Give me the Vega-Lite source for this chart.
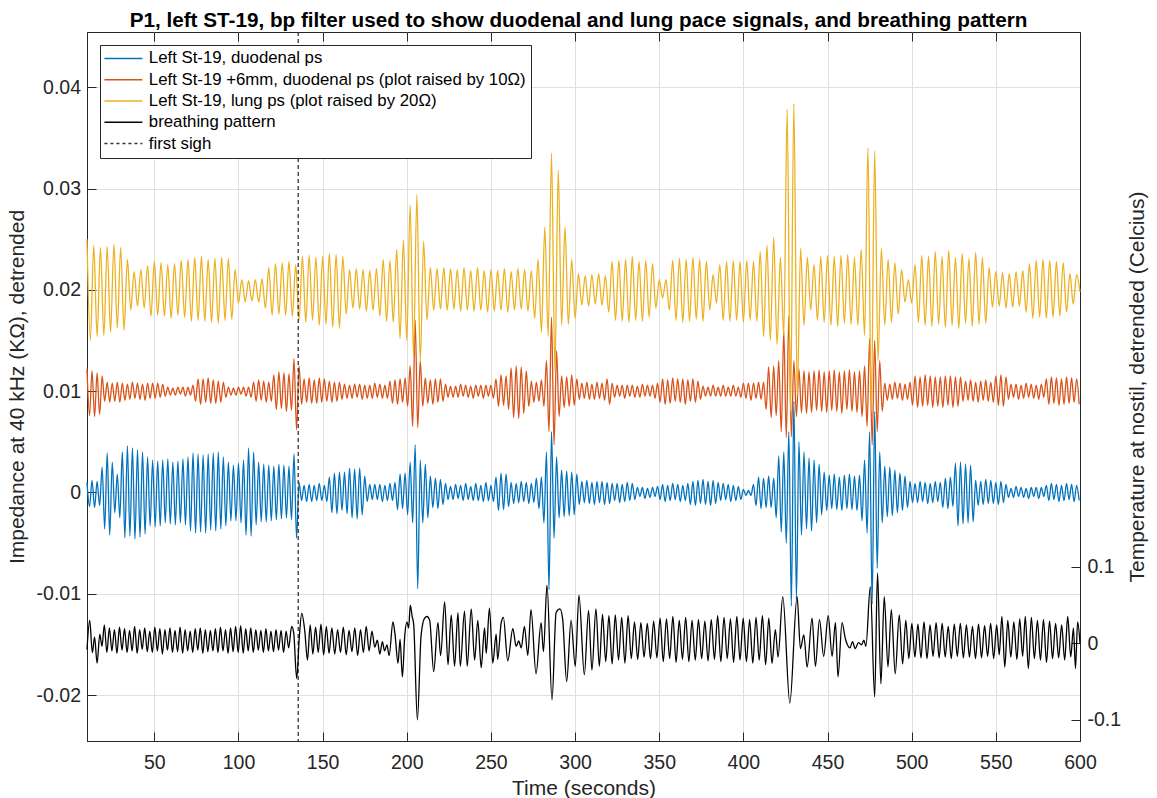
{
"$schema":"https://vega.github.io/schema/vega-lite/v6.json",
"width":993,"height":709,
"autosize":{"type":"none"},
"padding":{"left":87,"top":32,"right":78,"bottom":57},
"background":"white",
"config":{"font":"Liberation Sans","view":{"stroke":"#262626","strokeWidth":1},
"axis":{"domainColor":"#262626","tickColor":"#262626","labelColor":"#262626","titleColor":"#262626","labelFont":"Liberation Sans","titleFont":"Liberation Sans","labelFontSize":19.5,"titleFontSize":21,"titleFontWeight":"normal","gridColor":"#dfdfdf","gridWidth":1,"tickSize":-9,"tickWidth":1,"domainWidth":1}},
"title":{"text":"P1, left ST-19, bp filter used to show duodenal and lung pace signals, and breathing pattern","font":"Liberation Sans","fontSize":20.7,"fontWeight":"bold","color":"#000000","anchor":"middle","frame":"group","offset":0,"dx":-5},
"datasets":{
"bo":[{"t":10,"b":0.001,"o":0.0122},{"t":11.5,"b":-0.0014,"o":0.0076},{"t":13,"b":0.0012,"o":0.012},{"t":14.5,"b":-0.0015,"o":0.0075},{"t":16,"b":0.0011,"o":0.0118},{"t":17.5,"b":-0.0013,"o":0.0077},{"t":19,"b":0.0025,"o":0.0115},{"t":20.5,"b":-0.0036,"o":0.009},{"t":22,"b":0.0039,"o":0.0109},{"t":23.5,"b":-0.0042,"o":0.0089},{"t":25,"b":0.003,"o":0.0108},{"t":26.5,"b":-0.002,"o":0.009},{"t":28,"b":0.0018,"o":0.0109},{"t":29.5,"b":-0.0025,"o":0.0089},{"t":31,"b":0.004,"o":0.0108},{"t":32.5,"b":-0.0045,"o":0.0091},{"t":34,"b":0.0046,"o":0.0107},{"t":35.5,"b":-0.0043,"o":0.0092},{"t":37,"b":0.0044,"o":0.0109},{"t":38.5,"b":-0.0046,"o":0.0093},{"t":40,"b":0.0042,"o":0.0108},{"t":41.5,"b":-0.0044,"o":0.0092},{"t":43,"b":0.004,"o":0.0107},{"t":44.5,"b":-0.0041,"o":0.0091},{"t":46,"b":0.0035,"o":0.0108},{"t":47.5,"b":-0.0033,"o":0.0093},{"t":49,"b":0.0032,"o":0.0108},{"t":50.5,"b":-0.0034,"o":0.0093},{"t":52,"b":0.0031,"o":0.0108},{"t":53.5,"b":-0.0033,"o":0.0094},{"t":55,"b":0.0032,"o":0.0107},{"t":56.5,"b":-0.003,"o":0.0095},{"t":58,"b":0.0033,"o":0.0104},{"t":59.5,"b":-0.0031,"o":0.0096},{"t":61,"b":0.003,"o":0.0103},{"t":62.5,"b":-0.0032,"o":0.0096},{"t":64,"b":0.0031,"o":0.0104},{"t":65.5,"b":-0.003,"o":0.0097},{"t":67,"b":0.0033,"o":0.0104},{"t":68.5,"b":-0.0032,"o":0.0095},{"t":70,"b":0.0035,"o":0.0104},{"t":71.5,"b":-0.0038,"o":0.0096},{"t":73,"b":0.0039,"o":0.0106},{"t":74.5,"b":-0.004,"o":0.009},{"t":76,"b":0.0038,"o":0.0112},{"t":77.5,"b":-0.0039,"o":0.0087},{"t":79,"b":0.0037,"o":0.0112},{"t":80.5,"b":-0.004,"o":0.0089},{"t":82,"b":0.0038,"o":0.0113},{"t":83.5,"b":-0.0037,"o":0.0088},{"t":85,"b":0.0039,"o":0.0111},{"t":86.5,"b":-0.0038,"o":0.0088},{"t":88,"b":0.004,"o":0.011},{"t":89.5,"b":-0.0036,"o":0.0089},{"t":91,"b":0.0035,"o":0.0109},{"t":92.5,"b":-0.0033,"o":0.0094},{"t":94,"b":0.003,"o":0.0104},{"t":95.5,"b":-0.0028,"o":0.0096},{"t":97,"b":0.0027,"o":0.0103},{"t":98.5,"b":-0.0028,"o":0.0096},{"t":100,"b":0.0029,"o":0.0104},{"t":101.5,"b":-0.003,"o":0.0097},{"t":103,"b":0.0032,"o":0.0104},{"t":104.5,"b":-0.0042,"o":0.0095},{"t":106,"b":0.0044,"o":0.0104},{"t":107.5,"b":-0.0043,"o":0.0094},{"t":109,"b":0.004,"o":0.0109},{"t":110.5,"b":-0.0032,"o":0.009},{"t":112,"b":0.003,"o":0.0111},{"t":113.5,"b":-0.0029,"o":0.0091},{"t":115,"b":0.0028,"o":0.011},{"t":116.5,"b":-0.0029,"o":0.0089},{"t":118,"b":0.0027,"o":0.0109},{"t":119.5,"b":-0.0028,"o":0.009},{"t":121,"b":0.0026,"o":0.0116},{"t":122.5,"b":-0.0027,"o":0.0082},{"t":124,"b":0.0028,"o":0.0119},{"t":125.5,"b":-0.0026,"o":0.0083},{"t":127,"b":0.0027,"o":0.0118},{"t":128.5,"b":-0.0025,"o":0.008},{"t":130,"b":0.0026,"o":0.0117},{"t":131.5,"b":-0.0027,"o":0.0081},{"t":133,"b":0.0038,"o":0.0132},{"t":134.5,"b":-0.0045,"o":0.0062},{"t":136,"b":0.001,"o":0.0125},{"t":137.5,"b":-0.0008,"o":0.0087},{"t":139,"b":0.0007,"o":0.0112},{"t":140.5,"b":-0.0009,"o":0.0089},{"t":142,"b":0.0008,"o":0.0113},{"t":143.5,"b":-0.0009,"o":0.0088},{"t":145,"b":0.0007,"o":0.0111},{"t":146.5,"b":-0.0008,"o":0.0088},{"t":148,"b":0.0009,"o":0.0113},{"t":149.5,"b":-0.0008,"o":0.0089},{"t":151,"b":0.0007,"o":0.0112},{"t":152.5,"b":-0.0009,"o":0.009},{"t":154,"b":0.0015,"o":0.011},{"t":155.5,"b":-0.002,"o":0.0089},{"t":157,"b":0.0019,"o":0.0109},{"t":158.5,"b":-0.0021,"o":0.009},{"t":160,"b":0.002,"o":0.0109},{"t":161.5,"b":-0.0018,"o":0.0092},{"t":163,"b":0.002,"o":0.0107},{"t":164.5,"b":-0.0021,"o":0.0093},{"t":166,"b":0.0024,"o":0.0106},{"t":167.5,"b":-0.0025,"o":0.0093},{"t":169,"b":0.0023,"o":0.0107},{"t":170.5,"b":-0.0026,"o":0.0094},{"t":172,"b":0.0024,"o":0.0107},{"t":173.5,"b":-0.0022,"o":0.0092},{"t":175,"b":0.0016,"o":0.0106},{"t":176.5,"b":-0.0009,"o":0.0093},{"t":178,"b":0.0008,"o":0.0106},{"t":179.5,"b":-0.0007,"o":0.0093},{"t":181,"b":0.0008,"o":0.0108},{"t":182.5,"b":-0.0007,"o":0.0094},{"t":184,"b":0.0008,"o":0.0107},{"t":185.5,"b":-0.0009,"o":0.0093},{"t":187,"b":0.0007,"o":0.0106},{"t":188.5,"b":-0.0008,"o":0.0093},{"t":190,"b":0.0009,"o":0.011},{"t":191.5,"b":-0.0008,"o":0.0088},{"t":193,"b":0.001,"o":0.0111},{"t":194.5,"b":-0.0017,"o":0.0087},{"t":196,"b":0.0018,"o":0.0112},{"t":197.5,"b":-0.0016,"o":0.0089},{"t":199,"b":0.0019,"o":0.0113},{"t":200.5,"b":-0.0022,"o":0.0085},{"t":202,"b":0.003,"o":0.0125},{"t":203.5,"b":-0.003,"o":0.0065},{"t":205,"b":0.0047,"o":0.017},{"t":206.5,"b":-0.0095,"o":0.0064},{"t":208,"b":0.0032,"o":0.013},{"t":209.5,"b":-0.003,"o":0.0085},{"t":211,"b":0.0028,"o":0.0113},{"t":212.5,"b":-0.0025,"o":0.0088},{"t":214,"b":0.0016,"o":0.0111},{"t":215.5,"b":-0.0015,"o":0.0087},{"t":217,"b":0.0014,"o":0.0112},{"t":218.5,"b":-0.0016,"o":0.0089},{"t":220,"b":0.0013,"o":0.0112},{"t":221.5,"b":-0.0012,"o":0.009},{"t":223,"b":0.0009,"o":0.0107},{"t":224.5,"b":-0.0007,"o":0.0094},{"t":226,"b":0.0006,"o":0.0105},{"t":227.5,"b":-0.0007,"o":0.0094},{"t":229,"b":0.0008,"o":0.0105},{"t":230.5,"b":-0.0006,"o":0.0094},{"t":232,"b":0.0007,"o":0.0107},{"t":233.5,"b":-0.0008,"o":0.0095},{"t":235,"b":0.0009,"o":0.0106},{"t":236.5,"b":-0.0007,"o":0.0094},{"t":238,"b":0.0006,"o":0.0105},{"t":239.5,"b":-0.0008,"o":0.0093},{"t":241,"b":0.0009,"o":0.0106},{"t":242.5,"b":-0.0008,"o":0.0095},{"t":244,"b":0.0007,"o":0.0106},{"t":245.5,"b":-0.0009,"o":0.0093},{"t":247,"b":0.001,"o":0.0106},{"t":248.5,"b":-0.0008,"o":0.0095},{"t":250,"b":0.0007,"o":0.0106},{"t":251.5,"b":-0.0009,"o":0.0093},{"t":253,"b":0.0015,"o":0.0112},{"t":254.5,"b":-0.0018,"o":0.0085},{"t":256,"b":0.0019,"o":0.0116},{"t":257.5,"b":-0.0017,"o":0.0086},{"t":259,"b":0.0018,"o":0.0115},{"t":260.5,"b":-0.0014,"o":0.0082},{"t":262,"b":0.001,"o":0.0123},{"t":263.5,"b":-0.0011,"o":0.0074},{"t":265,"b":0.0009,"o":0.0125},{"t":266.5,"b":-0.001,"o":0.0073},{"t":268,"b":0.0011,"o":0.0124},{"t":269.5,"b":-0.0009,"o":0.0078},{"t":271,"b":0.001,"o":0.012},{"t":272.5,"b":-0.0011,"o":0.0085},{"t":274,"b":0.0009,"o":0.011},{"t":275.5,"b":-0.001,"o":0.0089},{"t":277,"b":0.0014,"o":0.0109},{"t":278.5,"b":-0.0016,"o":0.009},{"t":280,"b":0.0015,"o":0.0111},{"t":281.5,"b":-0.003,"o":0.0085},{"t":283,"b":0.004,"o":0.013},{"t":284.5,"b":-0.0096,"o":0.006},{"t":286,"b":0.006,"o":0.0173},{"t":287.5,"b":-0.0045,"o":0.0047},{"t":289,"b":0.0035,"o":0.014},{"t":290.5,"b":-0.0025,"o":0.0075},{"t":292,"b":0.0022,"o":0.0115},{"t":293.5,"b":-0.0024,"o":0.0084},{"t":295,"b":0.0021,"o":0.0114},{"t":296.5,"b":-0.0023,"o":0.0085},{"t":298,"b":0.002,"o":0.0116},{"t":299.5,"b":-0.0022,"o":0.0086},{"t":301,"b":0.0018,"o":0.0112},{"t":302.5,"b":-0.0012,"o":0.0092},{"t":304,"b":0.0011,"o":0.0108},{"t":305.5,"b":-0.001,"o":0.0093},{"t":307,"b":0.0012,"o":0.0109},{"t":308.5,"b":-0.0011,"o":0.0092},{"t":310,"b":0.001,"o":0.0107},{"t":311.5,"b":-0.0012,"o":0.0092},{"t":313,"b":0.0011,"o":0.0109},{"t":314.5,"b":-0.001,"o":0.0093},{"t":316,"b":0.0011,"o":0.0108},{"t":317.5,"b":-0.0012,"o":0.0091},{"t":319,"b":0.001,"o":0.0112},{"t":320.5,"b":-0.0011,"o":0.0087},{"t":322,"b":0.0009,"o":0.0108},{"t":323.5,"b":-0.0008,"o":0.0094},{"t":325,"b":0.0009,"o":0.0106},{"t":326.5,"b":-0.001,"o":0.0095},{"t":328,"b":0.0008,"o":0.0106},{"t":329.5,"b":-0.0009,"o":0.0093},{"t":331,"b":0.001,"o":0.0106},{"t":332.5,"b":-0.0008,"o":0.0095},{"t":334,"b":0.0009,"o":0.0106},{"t":335.5,"b":-0.0007,"o":0.0094},{"t":337,"b":0.0005,"o":0.0105},{"t":338.5,"b":-0.0004,"o":0.0094},{"t":340,"b":0.0005,"o":0.0107},{"t":341.5,"b":-0.0006,"o":0.0095},{"t":343,"b":0.0004,"o":0.0106},{"t":344.5,"b":-0.0005,"o":0.0095},{"t":346,"b":0.0005,"o":0.0106},{"t":347.5,"b":-0.0004,"o":0.0093},{"t":349,"b":0.0006,"o":0.0108},{"t":350.5,"b":-0.0007,"o":0.0089},{"t":352,"b":0.0008,"o":0.0112},{"t":353.5,"b":-0.0009,"o":0.0087},{"t":355,"b":0.0007,"o":0.0111},{"t":356.5,"b":-0.0008,"o":0.0088},{"t":358,"b":0.0009,"o":0.0113},{"t":359.5,"b":-0.0007,"o":0.009},{"t":361,"b":0.0008,"o":0.0112},{"t":362.5,"b":-0.0009,"o":0.0089},{"t":364,"b":0.0007,"o":0.0112},{"t":365.5,"b":-0.0008,"o":0.0087},{"t":367,"b":0.0009,"o":0.0111},{"t":368.5,"b":-0.0012,"o":0.009},{"t":370,"b":0.0011,"o":0.0112},{"t":371.5,"b":-0.0013,"o":0.0089},{"t":373,"b":0.0012,"o":0.011},{"t":374.5,"b":-0.0011,"o":0.0092},{"t":376,"b":0.0013,"o":0.0105},{"t":377.5,"b":-0.0012,"o":0.0095},{"t":379,"b":0.0011,"o":0.0104},{"t":380.5,"b":-0.0013,"o":0.0095},{"t":382,"b":0.0012,"o":0.0106},{"t":383.5,"b":-0.0011,"o":0.0095},{"t":385,"b":0.001,"o":0.0104},{"t":386.5,"b":-0.0008,"o":0.0095},{"t":388,"b":0.0009,"o":0.0106},{"t":389.5,"b":-0.0007,"o":0.0095},{"t":391,"b":0.0008,"o":0.0104},{"t":392.5,"b":-0.0009,"o":0.0095},{"t":394,"b":0.0007,"o":0.0106},{"t":395.5,"b":-0.0008,"o":0.0095},{"t":397,"b":0.0006,"o":0.0104},{"t":398.5,"b":-0.0007,"o":0.0094},{"t":400,"b":0.0003,"o":0.0108},{"t":401.5,"b":-0.0003,"o":0.0093},{"t":403,"b":0.0002,"o":0.0108},{"t":404.5,"b":-0.0003,"o":0.0091},{"t":406,"b":0.0008,"o":0.0108},{"t":407.5,"b":-0.0013,"o":0.0093},{"t":409,"b":0.0015,"o":0.0109},{"t":410.5,"b":-0.0016,"o":0.0092},{"t":412,"b":0.0014,"o":0.0109},{"t":413.5,"b":-0.0015,"o":0.0082},{"t":415,"b":0.0016,"o":0.0124},{"t":416.5,"b":-0.0015,"o":0.0074},{"t":418,"b":0.0014,"o":0.0125},{"t":419.5,"b":-0.0025,"o":0.0076},{"t":421,"b":0.0036,"o":0.013},{"t":422.5,"b":-0.0039,"o":0.006},{"t":424,"b":0.004,"o":0.016},{"t":425.5,"b":-0.005,"o":0.0054},{"t":427,"b":0.006,"o":0.0174},{"t":428.5,"b":-0.0112,"o":0.0055},{"t":430,"b":0.009,"o":0.013},{"t":431.5,"b":-0.0105,"o":0.0075},{"t":433,"b":0.005,"o":0.0122},{"t":434.5,"b":-0.0042,"o":0.0079},{"t":436,"b":0.004,"o":0.012},{"t":437.5,"b":-0.0036,"o":0.0078},{"t":439,"b":0.0034,"o":0.0119},{"t":440.5,"b":-0.0038,"o":0.0079},{"t":442,"b":0.0032,"o":0.012},{"t":443.5,"b":-0.003,"o":0.0081},{"t":445,"b":0.0028,"o":0.0121},{"t":446.5,"b":-0.0022,"o":0.008},{"t":448,"b":0.002,"o":0.0119},{"t":449.5,"b":-0.0018,"o":0.0079},{"t":451,"b":0.0017,"o":0.012},{"t":452.5,"b":-0.0016,"o":0.0081},{"t":454,"b":0.0018,"o":0.0121},{"t":455.5,"b":-0.0017,"o":0.008},{"t":457,"b":0.0015,"o":0.0119},{"t":458.5,"b":-0.0018,"o":0.0078},{"t":460,"b":0.0017,"o":0.012},{"t":461.5,"b":-0.0016,"o":0.0082},{"t":463,"b":0.0018,"o":0.0121},{"t":464.5,"b":-0.0017,"o":0.008},{"t":466,"b":0.0016,"o":0.0119},{"t":467.5,"b":-0.0018,"o":0.0079},{"t":469,"b":0.0017,"o":0.012},{"t":470.5,"b":-0.0028,"o":0.0075},{"t":472,"b":0.0032,"o":0.0125},{"t":473.5,"b":-0.004,"o":0.0065},{"t":475,"b":0.006,"o":0.0152},{"t":476.5,"b":-0.011,"o":0.0047},{"t":478,"b":0.008,"o":0.015},{"t":479.5,"b":-0.0075,"o":0.006},{"t":481,"b":0.004,"o":0.013},{"t":482.5,"b":-0.003,"o":0.008},{"t":484,"b":0.0026,"o":0.0108},{"t":485.5,"b":-0.0024,"o":0.0091},{"t":487,"b":0.0025,"o":0.0107},{"t":488.5,"b":-0.0023,"o":0.0092},{"t":490,"b":0.0022,"o":0.0109},{"t":491.5,"b":-0.002,"o":0.0093},{"t":493,"b":0.0019,"o":0.0108},{"t":494.5,"b":-0.0018,"o":0.0091},{"t":496,"b":0.0016,"o":0.0107},{"t":497.5,"b":-0.0015,"o":0.0092},{"t":499,"b":0.0011,"o":0.0109},{"t":500.5,"b":-0.001,"o":0.0086},{"t":502,"b":0.0009,"o":0.0115},{"t":503.5,"b":-0.001,"o":0.0084},{"t":505,"b":0.0011,"o":0.0114},{"t":506.5,"b":-0.0009,"o":0.0085},{"t":508,"b":0.001,"o":0.0116},{"t":509.5,"b":-0.0011,"o":0.0086},{"t":511,"b":0.0009,"o":0.0115},{"t":512.5,"b":-0.001,"o":0.0084},{"t":514,"b":0.0011,"o":0.0114},{"t":515.5,"b":-0.0009,"o":0.0085},{"t":517,"b":0.001,"o":0.0114},{"t":518.5,"b":-0.0015,"o":0.0084},{"t":520,"b":0.0014,"o":0.0115},{"t":521.5,"b":-0.0016,"o":0.0086},{"t":523,"b":0.0015,"o":0.0115},{"t":524.5,"b":-0.0014,"o":0.0084},{"t":526,"b":0.0029,"o":0.0114},{"t":527.5,"b":-0.0033,"o":0.0085},{"t":529,"b":0.003,"o":0.0114},{"t":530.5,"b":-0.0031,"o":0.009},{"t":532,"b":0.0028,"o":0.011},{"t":533.5,"b":-0.003,"o":0.0091},{"t":535,"b":0.0027,"o":0.0111},{"t":536.5,"b":-0.0029,"o":0.009},{"t":538,"b":0.0012,"o":0.0109},{"t":539.5,"b":-0.0013,"o":0.0089},{"t":541,"b":0.0011,"o":0.011},{"t":542.5,"b":-0.0012,"o":0.0091},{"t":544,"b":0.0013,"o":0.0111},{"t":545.5,"b":-0.0011,"o":0.009},{"t":547,"b":0.0012,"o":0.0109},{"t":548.5,"b":-0.0011,"o":0.0089},{"t":550,"b":0.001,"o":0.0115},{"t":551.5,"b":-0.0012,"o":0.0086},{"t":553,"b":0.0011,"o":0.0116},{"t":554.5,"b":-0.001,"o":0.0085},{"t":556,"b":0.0008,"o":0.0114},{"t":557.5,"b":-0.0005,"o":0.0092},{"t":559,"b":0.0004,"o":0.0107},{"t":560.5,"b":-0.0005,"o":0.0094},{"t":562,"b":0.0006,"o":0.0107},{"t":563.5,"b":-0.0004,"o":0.0092},{"t":565,"b":0.0005,"o":0.0106},{"t":566.5,"b":-0.0005,"o":0.0093},{"t":568,"b":0.0004,"o":0.0108},{"t":569.5,"b":-0.0006,"o":0.0094},{"t":571,"b":0.0005,"o":0.0107},{"t":572.5,"b":-0.0004,"o":0.0093},{"t":574,"b":0.0005,"o":0.0106},{"t":575.5,"b":-0.0006,"o":0.0092},{"t":577,"b":0.0005,"o":0.0107},{"t":578.5,"b":-0.0004,"o":0.0094},{"t":580,"b":0.0007,"o":0.0112},{"t":581.5,"b":-0.0008,"o":0.0087},{"t":583,"b":0.0009,"o":0.0114},{"t":584.5,"b":-0.0007,"o":0.0088},{"t":586,"b":0.0008,"o":0.0113},{"t":587.5,"b":-0.0009,"o":0.0086},{"t":589,"b":0.0007,"o":0.0112},{"t":590.5,"b":-0.0008,"o":0.0087},{"t":592,"b":0.0009,"o":0.0114},{"t":593.5,"b":-0.0007,"o":0.0088},{"t":595,"b":0.0008,"o":0.0113},{"t":596.5,"b":-0.0009,"o":0.0089},{"t":598,"b":0.0007,"o":0.0112},{"t":599.5,"b":-0.0008,"o":0.0087}],
"yel":[{"t":10,"v":0.025},{"t":12,"v":0.015},{"t":14,"v":0.0244},{"t":16,"v":0.0154},{"t":18,"v":0.0242},{"t":20,"v":0.0155},{"t":22,"v":0.0243},{"t":24,"v":0.0158},{"t":26,"v":0.0245},{"t":28,"v":0.0162},{"t":30,"v":0.0242},{"t":32,"v":0.016},{"t":34,"v":0.023},{"t":36,"v":0.018},{"t":38,"v":0.0218},{"t":40,"v":0.0184},{"t":42,"v":0.022},{"t":44,"v":0.0182},{"t":46,"v":0.0224},{"t":48,"v":0.0174},{"t":50,"v":0.0228},{"t":52,"v":0.0175},{"t":54,"v":0.0227},{"t":56,"v":0.0174},{"t":58,"v":0.0225},{"t":60,"v":0.0172},{"t":62,"v":0.0226},{"t":64,"v":0.0175},{"t":66,"v":0.0229},{"t":68,"v":0.0173},{"t":70,"v":0.023},{"t":72,"v":0.0169},{"t":74,"v":0.0232},{"t":76,"v":0.017},{"t":78,"v":0.0233},{"t":80,"v":0.0169},{"t":82,"v":0.023},{"t":84,"v":0.0168},{"t":86,"v":0.0231},{"t":88,"v":0.0167},{"t":90,"v":0.0232},{"t":92,"v":0.017},{"t":94,"v":0.0231},{"t":96,"v":0.0171},{"t":98,"v":0.022},{"t":100,"v":0.0187},{"t":102,"v":0.021},{"t":104,"v":0.0188},{"t":106,"v":0.0209},{"t":108,"v":0.0189},{"t":110,"v":0.021},{"t":112,"v":0.0188},{"t":114,"v":0.0211},{"t":116,"v":0.0182},{"t":118,"v":0.0222},{"t":120,"v":0.0175},{"t":122,"v":0.0226},{"t":124,"v":0.0176},{"t":126,"v":0.0227},{"t":128,"v":0.0175},{"t":130,"v":0.0228},{"t":132,"v":0.0174},{"t":134,"v":0.0225},{"t":136,"v":0.017},{"t":138,"v":0.0233},{"t":140,"v":0.0168},{"t":142,"v":0.0234},{"t":144,"v":0.017},{"t":146,"v":0.0232},{"t":148,"v":0.0165},{"t":150,"v":0.0233},{"t":152,"v":0.0166},{"t":154,"v":0.0236},{"t":156,"v":0.0163},{"t":158,"v":0.0235},{"t":160,"v":0.0162},{"t":162,"v":0.0233},{"t":164,"v":0.0176},{"t":166,"v":0.022},{"t":168,"v":0.0182},{"t":170,"v":0.0221},{"t":172,"v":0.0181},{"t":174,"v":0.022},{"t":176,"v":0.0179},{"t":178,"v":0.0219},{"t":180,"v":0.018},{"t":182,"v":0.0221},{"t":184,"v":0.0174},{"t":186,"v":0.023},{"t":188,"v":0.0169},{"t":190,"v":0.0229},{"t":192,"v":0.0168},{"t":194,"v":0.024},{"t":196,"v":0.0152},{"t":198,"v":0.0249},{"t":200,"v":0.015},{"t":202,"v":0.0284},{"t":204,"v":0.0135},{"t":206,"v":0.0294},{"t":208,"v":0.0129},{"t":210,"v":0.0248},{"t":212,"v":0.017},{"t":214,"v":0.0222},{"t":216,"v":0.018},{"t":218,"v":0.0221},{"t":220,"v":0.0181},{"t":222,"v":0.0222},{"t":224,"v":0.018},{"t":226,"v":0.0221},{"t":228,"v":0.0181},{"t":230,"v":0.022},{"t":232,"v":0.0179},{"t":234,"v":0.0222},{"t":236,"v":0.018},{"t":238,"v":0.0219},{"t":240,"v":0.0179},{"t":242,"v":0.0222},{"t":244,"v":0.018},{"t":246,"v":0.0219},{"t":248,"v":0.0178},{"t":250,"v":0.022},{"t":252,"v":0.0179},{"t":254,"v":0.0219},{"t":256,"v":0.018},{"t":258,"v":0.0221},{"t":260,"v":0.0178},{"t":262,"v":0.0218},{"t":264,"v":0.018},{"t":266,"v":0.0221},{"t":268,"v":0.0181},{"t":270,"v":0.022},{"t":272,"v":0.0179},{"t":274,"v":0.0219},{"t":276,"v":0.0172},{"t":278,"v":0.023},{"t":280,"v":0.0158},{"t":282,"v":0.0262},{"t":284,"v":0.0154},{"t":286,"v":0.0335},{"t":288,"v":0.012},{"t":290,"v":0.0318},{"t":292,"v":0.0165},{"t":294,"v":0.0262},{"t":296,"v":0.0166},{"t":298,"v":0.023},{"t":300,"v":0.0172},{"t":302,"v":0.0216},{"t":304,"v":0.0185},{"t":306,"v":0.0214},{"t":308,"v":0.0184},{"t":310,"v":0.0215},{"t":312,"v":0.0186},{"t":314,"v":0.0216},{"t":316,"v":0.0185},{"t":318,"v":0.0214},{"t":320,"v":0.0178},{"t":322,"v":0.0228},{"t":324,"v":0.017},{"t":326,"v":0.0229},{"t":328,"v":0.0169},{"t":330,"v":0.023},{"t":332,"v":0.0168},{"t":334,"v":0.0233},{"t":336,"v":0.017},{"t":338,"v":0.0228},{"t":340,"v":0.0169},{"t":342,"v":0.0229},{"t":344,"v":0.0173},{"t":346,"v":0.0226},{"t":348,"v":0.0182},{"t":350,"v":0.021},{"t":352,"v":0.0192},{"t":354,"v":0.021},{"t":356,"v":0.018},{"t":358,"v":0.0229},{"t":360,"v":0.017},{"t":362,"v":0.0231},{"t":364,"v":0.0168},{"t":366,"v":0.023},{"t":368,"v":0.0169},{"t":370,"v":0.0232},{"t":372,"v":0.0171},{"t":374,"v":0.023},{"t":376,"v":0.0169},{"t":378,"v":0.0228},{"t":380,"v":0.018},{"t":382,"v":0.0215},{"t":384,"v":0.0187},{"t":386,"v":0.0225},{"t":388,"v":0.017},{"t":390,"v":0.0228},{"t":392,"v":0.0169},{"t":394,"v":0.0229},{"t":396,"v":0.017},{"t":398,"v":0.0228},{"t":400,"v":0.0168},{"t":402,"v":0.0229},{"t":404,"v":0.017},{"t":406,"v":0.0228},{"t":408,"v":0.0169},{"t":410,"v":0.0238},{"t":412,"v":0.0154},{"t":414,"v":0.0244},{"t":416,"v":0.015},{"t":418,"v":0.0252},{"t":420,"v":0.0146},{"t":422,"v":0.0232},{"t":424,"v":0.0155},{"t":426,"v":0.0378},{"t":428,"v":0.008},{"t":430,"v":0.0384},{"t":432,"v":0.0095},{"t":434,"v":0.0241},{"t":436,"v":0.0165},{"t":438,"v":0.0232},{"t":440,"v":0.018},{"t":442,"v":0.0225},{"t":444,"v":0.017},{"t":446,"v":0.0233},{"t":448,"v":0.0168},{"t":450,"v":0.0234},{"t":452,"v":0.0165},{"t":454,"v":0.0233},{"t":456,"v":0.0164},{"t":458,"v":0.0234},{"t":460,"v":0.0167},{"t":462,"v":0.0235},{"t":464,"v":0.0166},{"t":466,"v":0.0232},{"t":468,"v":0.0165},{"t":470,"v":0.024},{"t":472,"v":0.0155},{"t":474,"v":0.034},{"t":476,"v":0.008},{"t":478,"v":0.0337},{"t":480,"v":0.013},{"t":482,"v":0.0241},{"t":484,"v":0.0165},{"t":486,"v":0.023},{"t":488,"v":0.0168},{"t":490,"v":0.0227},{"t":492,"v":0.0176},{"t":494,"v":0.022},{"t":496,"v":0.0188},{"t":498,"v":0.021},{"t":500,"v":0.0187},{"t":502,"v":0.0225},{"t":504,"v":0.0168},{"t":506,"v":0.0234},{"t":508,"v":0.0165},{"t":510,"v":0.0233},{"t":512,"v":0.0164},{"t":514,"v":0.0238},{"t":516,"v":0.0166},{"t":518,"v":0.0233},{"t":520,"v":0.0163},{"t":522,"v":0.0239},{"t":524,"v":0.0165},{"t":526,"v":0.0232},{"t":528,"v":0.0162},{"t":530,"v":0.0236},{"t":532,"v":0.0167},{"t":534,"v":0.0231},{"t":536,"v":0.0164},{"t":538,"v":0.0237},{"t":540,"v":0.0166},{"t":542,"v":0.0232},{"t":544,"v":0.0167},{"t":546,"v":0.0222},{"t":548,"v":0.0183},{"t":550,"v":0.0218},{"t":552,"v":0.0184},{"t":554,"v":0.0217},{"t":556,"v":0.0182},{"t":558,"v":0.0216},{"t":560,"v":0.0183},{"t":562,"v":0.0218},{"t":564,"v":0.0184},{"t":566,"v":0.0219},{"t":568,"v":0.0178},{"t":570,"v":0.0226},{"t":572,"v":0.0172},{"t":574,"v":0.0229},{"t":576,"v":0.0173},{"t":578,"v":0.023},{"t":580,"v":0.0172},{"t":582,"v":0.0229},{"t":584,"v":0.0173},{"t":586,"v":0.0228},{"t":588,"v":0.0174},{"t":590,"v":0.0227},{"t":592,"v":0.0178},{"t":594,"v":0.0216},{"t":596,"v":0.0186},{"t":598,"v":0.0215},{"t":600,"v":0.0198}],
"blk":[{"t":10,"v":-0.008},{"t":11.6,"v":0.03},{"t":13.2,"v":-0.012},{"t":14.5,"v":0.008},{"t":16,"v":-0.026},{"t":17.6,"v":0.012},{"t":18.9,"v":-0.004},{"t":20.3,"v":0.024},{"t":21.8,"v":-0.012},{"t":23.3,"v":0.02},{"t":24.8,"v":-0.01},{"t":26.3,"v":0.018},{"t":27.8,"v":-0.013},{"t":29.3,"v":0.021},{"t":30.8,"v":-0.009},{"t":32.3,"v":0.019},{"t":33.8,"v":-0.012},{"t":35.3,"v":0.017},{"t":36.8,"v":-0.01},{"t":38.3,"v":0.022},{"t":39.8,"v":-0.013},{"t":41.3,"v":0.018},{"t":42.8,"v":-0.008},{"t":44.3,"v":0.02},{"t":45.8,"v":-0.011},{"t":47.3,"v":0.016},{"t":48.8,"v":-0.012},{"t":50.3,"v":0.021},{"t":51.8,"v":-0.01},{"t":53.3,"v":0.019},{"t":54.8,"v":-0.014},{"t":56.3,"v":0.018},{"t":57.8,"v":-0.009},{"t":59.3,"v":0.02},{"t":60.8,"v":-0.012},{"t":62.3,"v":0.017},{"t":63.8,"v":-0.011},{"t":65.3,"v":0.021},{"t":66.8,"v":-0.013},{"t":68.3,"v":0.018},{"t":69.8,"v":-0.01},{"t":71.3,"v":0.016},{"t":72.8,"v":-0.012},{"t":74.3,"v":0.019},{"t":75.8,"v":-0.009},{"t":77.3,"v":0.02},{"t":78.8,"v":-0.013},{"t":80.3,"v":0.018},{"t":81.8,"v":-0.011},{"t":83.3,"v":0.017},{"t":84.8,"v":-0.01},{"t":86.3,"v":0.019},{"t":87.8,"v":-0.012},{"t":89.3,"v":0.021},{"t":90.8,"v":-0.01},{"t":92.3,"v":0.018},{"t":93.8,"v":-0.013},{"t":95.3,"v":0.02},{"t":96.8,"v":-0.011},{"t":98.3,"v":0.022},{"t":99.8,"v":-0.012},{"t":101.3,"v":0.023},{"t":102.8,"v":-0.013},{"t":104.3,"v":0.019},{"t":105.8,"v":-0.01},{"t":107.3,"v":0.02},{"t":108.8,"v":-0.012},{"t":110.3,"v":0.018},{"t":111.8,"v":-0.009},{"t":113.3,"v":0.017},{"t":114.8,"v":-0.012},{"t":116.3,"v":0.019},{"t":117.8,"v":-0.01},{"t":119.3,"v":0.016},{"t":120.8,"v":-0.011},{"t":122.3,"v":0.018},{"t":123.8,"v":-0.009},{"t":125.3,"v":0.017},{"t":126.8,"v":-0.012},{"t":128.3,"v":0.016},{"t":129.8,"v":-0.006},{"t":131.6,"v":0.022},{"t":132.8,"v":0.014},{"t":134.6,"v":-0.046},{"t":136.2,"v":0.01},{"t":137.6,"v":0.039},{"t":139.4,"v":0.016},{"t":141,"v":-0.022},{"t":142.6,"v":0.024},{"t":144.2,"v":-0.014},{"t":145.8,"v":0.021},{"t":147.4,"v":-0.012},{"t":149,"v":0.025},{"t":150.6,"v":-0.015},{"t":152.2,"v":0.022},{"t":153.8,"v":-0.013},{"t":155.5,"v":0.02},{"t":157.2,"v":-0.014},{"t":158.9,"v":0.018},{"t":160.6,"v":-0.012},{"t":162.3,"v":0.021},{"t":164,"v":-0.015},{"t":165.7,"v":0.017},{"t":167.4,"v":-0.011},{"t":169.1,"v":0.02},{"t":170.8,"v":-0.016},{"t":172.5,"v":0.018},{"t":174.2,"v":-0.012},{"t":175.9,"v":0.022},{"t":177.6,"v":-0.01},{"t":179.3,"v":0.016},{"t":181,"v":-0.005},{"t":182.5,"v":0.004},{"t":184,"v":-0.014},{"t":185.5,"v":0.002},{"t":186.8,"v":-0.01},{"t":188.2,"v":-0.002},{"t":189.5,"v":-0.016},{"t":191.8,"v":0.028},{"t":193,"v":0.012},{"t":194.8,"v":-0.026},{"t":196,"v":0.005},{"t":197.4,"v":-0.044},{"t":198.8,"v":0.01},{"t":200.1,"v":0.028},{"t":201.1,"v":0.02},{"t":202.1,"v":0.05},{"t":203.2,"v":0.035},{"t":204.1,"v":0.025},{"t":206.3,"v":-0.1},{"t":208.5,"v":0.01},{"t":210.6,"v":0.033},{"t":212,"v":0.035},{"t":213.6,"v":0.03},{"t":216,"v":-0.037},{"t":218.5,"v":0.027},{"t":220.1,"v":-0.016},{"t":222.5,"v":0.054},{"t":224.5,"v":-0.028},{"t":226.4,"v":0.037},{"t":228.4,"v":-0.03},{"t":230.4,"v":0.04},{"t":231.8,"v":-0.03},{"t":234.3,"v":0.042},{"t":235.9,"v":-0.03},{"t":238.3,"v":0.045},{"t":240.3,"v":-0.022},{"t":242.2,"v":0.03},{"t":244.2,"v":-0.032},{"t":246.2,"v":0.02},{"t":247.2,"v":-0.013},{"t":249.1,"v":0.046},{"t":251.1,"v":-0.026},{"t":253.1,"v":0.012},{"t":254,"v":-0.021},{"t":256.1,"v":0.027},{"t":257.4,"v":0.034},{"t":260,"v":-0.023},{"t":263,"v":0.019},{"t":265,"v":-0.004},{"t":266.5,"v":0.003},{"t":268,"v":-0.006},{"t":269.9,"v":0.022},{"t":271.9,"v":-0.016},{"t":273.8,"v":0.044},{"t":276.8,"v":-0.04},{"t":279.8,"v":0.027},{"t":281.2,"v":-0.011},{"t":283.3,"v":0.076},{"t":286.3,"v":-0.074},{"t":288.7,"v":0.04},{"t":291,"v":0.045},{"t":292.6,"v":0.032},{"t":295,"v":-0.05},{"t":297.6,"v":0.03},{"t":300.1,"v":-0.03},{"t":302.3,"v":0.063},{"t":305.5,"v":-0.041},{"t":308,"v":0.043},{"t":310,"v":-0.035},{"t":312.4,"v":0.045},{"t":314.4,"v":-0.03},{"t":316.3,"v":0.038},{"t":318.2,"v":-0.024},{"t":320.1,"v":0.036},{"t":322,"v":-0.027},{"t":323.9,"v":0.037},{"t":325.8,"v":-0.022},{"t":327.7,"v":0.034},{"t":329.6,"v":-0.026},{"t":331.5,"v":0.036},{"t":333.4,"v":-0.02},{"t":335.3,"v":0.028},{"t":337.2,"v":-0.021},{"t":339.1,"v":0.027},{"t":341,"v":-0.018},{"t":342.9,"v":0.026},{"t":344.8,"v":-0.02},{"t":346.7,"v":0.029},{"t":348.6,"v":-0.019},{"t":350.5,"v":0.033},{"t":352.4,"v":-0.024},{"t":354.3,"v":0.032},{"t":356.2,"v":-0.02},{"t":358.1,"v":0.035},{"t":360,"v":-0.025},{"t":361.9,"v":0.03},{"t":363.8,"v":-0.021},{"t":365.7,"v":0.034},{"t":367.6,"v":-0.024},{"t":369.5,"v":0.03},{"t":371.4,"v":-0.022},{"t":373.3,"v":0.031},{"t":375.2,"v":-0.02},{"t":377.1,"v":0.029},{"t":379,"v":-0.023},{"t":380.9,"v":0.031},{"t":382.8,"v":-0.021},{"t":384.7,"v":0.036},{"t":386.6,"v":-0.024},{"t":388.5,"v":0.034},{"t":390.4,"v":-0.02},{"t":392.3,"v":0.032},{"t":394.2,"v":-0.025},{"t":396.1,"v":0.035},{"t":398,"v":-0.022},{"t":399.9,"v":0.033},{"t":401.8,"v":-0.024},{"t":403.7,"v":0.031},{"t":405.6,"v":-0.026},{"t":407.5,"v":0.034},{"t":409.4,"v":-0.022},{"t":411.3,"v":0.036},{"t":413.2,"v":-0.028},{"t":415.1,"v":0.033},{"t":417,"v":-0.026},{"t":419,"v":0.018},{"t":420.6,"v":-0.018},{"t":423.4,"v":0.061},{"t":427.6,"v":-0.078},{"t":431.9,"v":0.061},{"t":433.9,"v":-0.007},{"t":435.9,"v":0.011},{"t":437.9,"v":-0.031},{"t":440.8,"v":0.033},{"t":442.8,"v":-0.03},{"t":445.2,"v":0.031},{"t":447.7,"v":-0.017},{"t":450.4,"v":0.036},{"t":452.7,"v":-0.017},{"t":454.7,"v":0.027},{"t":456.2,"v":-0.044},{"t":458.6,"v":0.027},{"t":460.6,"v":0.006},{"t":461.8,"v":-0.002},{"t":463.3,"v":-0.006},{"t":464.8,"v":0.002},{"t":466.5,"v":-0.007},{"t":468.3,"v":0.001},{"t":470.2,"v":-0.002},{"t":471.6,"v":0.004},{"t":472.8,"v":-0.004},{"t":475.4,"v":0.074},{"t":478,"v":-0.07},{"t":479.7,"v":0.092},{"t":481.7,"v":-0.053},{"t":483.7,"v":0.061},{"t":485.9,"v":-0.031},{"t":487.9,"v":0.044},{"t":490.2,"v":-0.04},{"t":492.6,"v":0.037},{"t":494.6,"v":-0.027},{"t":496.5,"v":0.03},{"t":498.3,"v":-0.02},{"t":500.1,"v":0.026},{"t":501.9,"v":-0.018},{"t":503.7,"v":0.025},{"t":505.5,"v":-0.019},{"t":507.3,"v":0.028},{"t":509.1,"v":-0.02},{"t":510.9,"v":0.024},{"t":512.7,"v":-0.017},{"t":514.5,"v":0.027},{"t":516.3,"v":-0.019},{"t":518.1,"v":0.026},{"t":519.9,"v":-0.018},{"t":521.7,"v":0.022},{"t":523.5,"v":-0.02},{"t":525.3,"v":0.025},{"t":527.1,"v":-0.017},{"t":528.9,"v":0.026},{"t":530.7,"v":-0.019},{"t":532.5,"v":0.024},{"t":534.3,"v":-0.018},{"t":536.1,"v":0.022},{"t":537.9,"v":-0.02},{"t":539.7,"v":0.025},{"t":541.5,"v":-0.019},{"t":543.3,"v":0.023},{"t":545.1,"v":-0.017},{"t":546.9,"v":0.026},{"t":548.7,"v":-0.02},{"t":550.5,"v":0.024},{"t":552,"v":-0.015},{"t":553.6,"v":0.035},{"t":555.3,"v":-0.031},{"t":557.1,"v":0.03},{"t":558.9,"v":-0.018},{"t":560.7,"v":0.028},{"t":562.5,"v":-0.021},{"t":564.2,"v":0.032},{"t":565.9,"v":-0.017},{"t":567.5,"v":0.035},{"t":569.3,"v":-0.033},{"t":571.1,"v":0.034},{"t":572.9,"v":-0.02},{"t":574.7,"v":0.03},{"t":576.5,"v":-0.022},{"t":578.3,"v":0.031},{"t":580.1,"v":-0.025},{"t":581.9,"v":0.029},{"t":583.7,"v":-0.02},{"t":585.5,"v":0.026},{"t":587.3,"v":-0.019},{"t":589.1,"v":0.024},{"t":590.9,"v":-0.022},{"t":592.7,"v":0.035},{"t":594.5,"v":-0.018},{"t":596.1,"v":0.02},{"t":597.3,"v":-0.033},{"t":598.6,"v":0.028},{"t":600,"v":0}],
"sigh":[{"t":135.5}]
},
"resolve":{"scale":{"x":"independent","y":"independent"}},
"layer":[
{"layer":[
{"data":{"name":"bo"},"mark":{"type":"line","interpolate":"monotone","strokeWidth":1.3},
"encoding":{
"x":{"field":"t","type":"quantitative","scale":{"domain":[10,600],"nice":false,"zero":false},"axis":{"orient":"bottom","title":"Time (seconds)","values":[50,100,150,200,250,300,350,400,450,500,550,600],"grid":true,"labelFlush":false,"labelPadding":21.5,"titlePadding":5}},
"y":{"field":"b","type":"quantitative","scale":{"domain":[-0.02454,0.04546],"nice":false,"zero":false},"axis":{"orient":"left","title":"Impedance at 40 kHz (KΩ), detrended","values":[-0.02,-0.01,0,0.01,0.02,0.03,0.04],"format":".2~f","labelExpr":"replace(datum.label,'−','-')","grid":true,"labelPadding":15.5,"titlePadding":9}},
"color":{"datum":"Left St-19, duodenal ps","type":"nominal","scale":{"domain":["Left St-19, duodenal ps","Left St-19 +6mm, duodenal ps (plot raised by 10Ω)","Left St-19, lung ps (plot raised by 20Ω)","breathing pattern","first sigh"],"range":["#0072BD","#D95319","#EDB120","#000000","#333333"]},
"legend":{"title":null,"orient":"top-left","offset":13,"padding":5,"rowPadding":3.3,"strokeColor":"#262626","fillColor":"white","labelFont":"Liberation Sans","labelFontSize":16.8,"labelColor":"#000000","labelLimit":0,"symbolType":"M-4,0H4","symbolSize":90,"symbolStrokeWidth":1.5,"symbolOffset":10,"labelOffset":17,
"encode":{"symbols":{"update":{"strokeDash":{"signal":"datum.value == 'first sigh' ? [3,3] : [1,0]"},"fill":{"value":"transparent"}}}}}}}},
{"data":{"name":"bo"},"mark":{"type":"line","interpolate":"monotone","strokeWidth":1.3},
"encoding":{"x":{"field":"t","type":"quantitative"},"y":{"field":"o","type":"quantitative"},"color":{"datum":"Left St-19 +6mm, duodenal ps (plot raised by 10Ω)","type":"nominal"}}},
{"data":{"name":"yel"},"mark":{"type":"line","interpolate":"monotone","strokeWidth":1.3},
"encoding":{"x":{"field":"t","type":"quantitative"},"y":{"field":"v","type":"quantitative"},"color":{"datum":"Left St-19, lung ps (plot raised by 20Ω)","type":"nominal"}}},
{"data":{"name":"sigh"},"mark":{"type":"rule","strokeDash":[4,3],"strokeWidth":1.3},
"encoding":{"x":{"field":"t","type":"quantitative"},"color":{"datum":"first sigh","type":"nominal"}}}
]},
{"data":{"name":"blk"},"mark":{"type":"line","interpolate":"monotone","strokeWidth":1.3},
"encoding":{
"x":{"field":"t","type":"quantitative","scale":{"domain":[10,600],"nice":false,"zero":false},"axis":{"orient":"top","labels":false,"title":null,"grid":false,"domain":false,"values":[50,100,150,200,250,300,350,400,450,500,550,600]}},
"y":{"field":"v","type":"quantitative","scale":{"domain":[-0.1277,0.799],"nice":false,"zero":false},"axis":{"orient":"right","title":"Temperature at nostil, detrended (Celcius)","titleAngle":270,"titleBaseline":"top","values":[-0.1,0,0.1],"format":".1~f","labelExpr":"replace(datum.label,'−','-')","grid":false,"labelPadding":16,"titlePadding":6}},
"color":{"datum":"breathing pattern","type":"nominal"}}}
]
}
